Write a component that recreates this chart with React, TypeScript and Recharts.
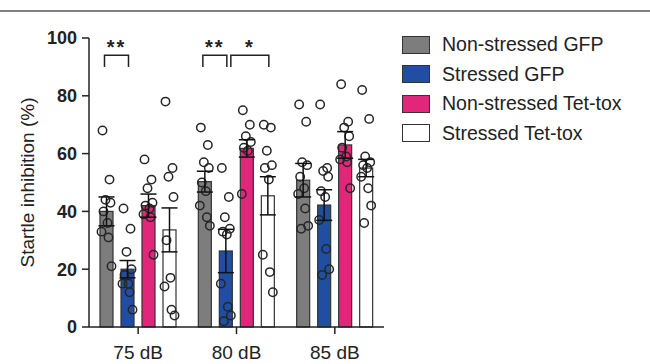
import React from 'react';
import {
  ComposedChart,
  Bar,
  ErrorBar,
  XAxis,
  YAxis,
  Legend
} from 'recharts';

// x categories and y ticks
const categories = ['75 dB', '80 dB', '85 dB'];
const yTicks = [0, 20, 40, 60, 80, 100];

// group means and SEM, one value per category
const nsGfpMean = [40, 50.3, 50.8];
const nsGfpSem = [5, 3.6, 5.8];
const sGfpMean = [20, 26.3, 42.2];
const sGfpSem = [3, 7.5, 5.3];
const nsTetMean = [42, 61.8, 63];
const nsTetSem = [4, 3, 4.6];
const sTetMean = [33.6, 45.4, 55];
const sTetSem = [7.6, 6.6, 3];

// individual animals
const nsGfpPoints = [
  [68, 51, 44, 43, 40, 36, 33, 31, 21],
  [69, 63, 57, 55, 50, 47, 42, 38, 35],
  [77, 71, 57, 56, 52, 48, 46, 41, 35, 34],
];
const sGfpPoints = [
  [41, 34, 26, 20, 18, 15, 15, 12, 6],
  [55, 45, 38, 34, 33, 32, 15, 7, 4, 2],
  [77, 55, 54, 52, 47, 45, 37, 27, 20, 18],
];
const nsTetPoints = [
  [58, 51, 48, 43, 42, 41, 39, 38, 25],
  [75, 70, 66, 64, 62, 61, 46],
  [84, 71, 69, 66, 62, 59, 58, 57, 48],
];
const sTetPoints = [
  [78, 55, 52, 45, 30, 17, 14, 6, 4],
  [70, 69, 61, 56, 55, 51, 25, 19, 12],
  [82, 72, 59, 57, 56, 55, 52, 48, 42, 36],
];

// significance marks: category index, from series, to series, label
const sigCats = [0, 1, 1];
const sigFrom = [0, 0, 1];
const sigTo = [1, 1, 3];
const sigLabels = ['**', '**', '*'];
const SIG_LEVEL = 94;
const SIG_LEG = 90;

const series = [
  { key: 'nsGfp', name: 'Non-stressed GFP', color: '#7d7d7d', mean: nsGfpMean, sem: nsGfpSem, pts: nsGfpPoints },
  { key: 'sGfp', name: 'Stressed GFP', color: '#1f4ea3', mean: sGfpMean, sem: sGfpSem, pts: sGfpPoints },
  { key: 'nsTet', name: 'Non-stressed Tet-tox', color: '#e2267a', mean: nsTetMean, sem: nsTetSem, pts: nsTetPoints },
  { key: 'sTet', name: 'Stressed Tet-tox', color: '#ffffff', mean: sTetMean, sem: sTetSem, pts: sTetPoints },
];

const data = categories.map((cat, i) => {
  const row: any = { cat, idx: i };
  series.forEach(s => {
    row[s.key] = s.mean[i];
    row[s.key + 'Err'] = s.sem[i];
    row[s.key + 'Pts'] = s.pts[i];
  });
  return row;
});

const BAR_SIZE = 13;
const BAR_GAP = 8;
const JITTER = [-4, 3, -1, 4, -3, 1, -5, 2, 5, -2];
const FONT = '"Liberation Sans", Arial, Helvetica, sans-serif';

const makeShape = (seriesIdx: number) => (props: any) => {
  const { x, y, width, height, payload, fill } = props;
  const s = series[seriesIdx];
  const value = payload[s.key];
  const base = y + height;
  const ppu = height / value;
  const cx = x + width / 2;
  const pts: number[] = payload[s.key + 'Pts'] || [];

  const marks: React.ReactNode[] = [];
  sigCats.forEach((c, k) => {
    if (c !== payload.idx || sigFrom[k] !== seriesIdx) return;
    // shift start when another bracket ends on this bar
    const shared = sigCats.some((c2, k2) => c2 === c && sigTo[k2] === seriesIdx);
    const x1 = cx + (shared ? 5 : -2);
    const x2 = cx + (sigTo[k] - sigFrom[k]) * (width + BAR_GAP) + 1;
    const yl = base - SIG_LEVEL * ppu;
    const yg = base - SIG_LEG * ppu;
    marks.push(
      <g key={'sig' + k}>
        <path
          d={`M${x1},${yg} L${x1},${yl} L${x2},${yl} L${x2},${yg}`}
          fill="none"
          stroke="#222"
          strokeWidth={1.5}
        />
        <text
          x={(x1 + x2) / 2}
          y={yl - 1}
          textAnchor="middle"
          fontFamily={FONT}
          fontWeight="bold"
          fontSize={20}
          letterSpacing={2}
          fill="#222"
        >
          {sigLabels[k]}
        </text>
      </g>
    );
  });

  return (
    <g>
      <rect x={x} y={y} width={width} height={height} fill={fill} stroke="#333" strokeWidth={1.2} />
      {pts.map((v, j) => (
        <circle
          key={j}
          cx={cx + JITTER[j % JITTER.length]}
          cy={base - v * ppu}
          r={4.2}
          fill="none"
          stroke="#262626"
          strokeWidth={1.5}
        />
      ))}
      {marks}
    </g>
  );
};

const LegendBox = () => (
  <div style={{ fontFamily: FONT }}>
    {series.map(s => (
      <div key={s.key} style={{ display: 'flex', alignItems: 'center', height: 29.5 }}>
        <div
          style={{
            width: 26,
            height: 16,
            background: s.color,
            border: '1.5px solid #333',
            marginRight: 12
          }}
        />
        <span style={{ fontSize: 19.5, color: '#222', whiteSpace: 'nowrap' }}>{s.name}</span>
      </div>
    ))}
  </div>
);

const YLabel = (props: any) => {
  const { viewBox } = props;
  const cy = viewBox.y + viewBox.height / 2;
  return (
    <text
      x={27}
      y={cy}
      transform={`rotate(-90, 27, ${cy})`}
      textAnchor="middle"
      dominantBaseline="central"
      fontFamily={FONT}
      fontSize={19}
      fill="#222"
    >
      Startle inhibition (%)
    </text>
  );
};

export default function App() {
  return (
    <div style={{ position: 'absolute', left: 0, top: 0, width: 650, height: 364, background: '#fff' }}>
      <div style={{ position: 'absolute', left: 0, top: 10, width: 650, height: 2, background: '#808080' }} />
      <ComposedChart
        width={650}
        height={364}
        data={data}
        margin={{ top: 38, right: 266, bottom: 0, left: 9 }}
        barSize={BAR_SIZE}
        barGap={BAR_GAP}
      >
        <XAxis
          dataKey="cat"
          height={37}
          tickSize={7}
          tickMargin={12}
          axisLine={{ stroke: '#222', strokeWidth: 1.5 }}
          tickLine={{ stroke: '#222', strokeWidth: 1.5 }}
          tick={{ fontSize: 19, fill: '#222', fontFamily: FONT }}
        />
        <YAxis
          width={80}
          domain={[0, 100]}
          ticks={yTicks}
          tickSize={7}
          tickMargin={5}
          axisLine={{ stroke: '#222', strokeWidth: 1.5 }}
          tickLine={{ stroke: '#222', strokeWidth: 1.5 }}
          tick={{ fontSize: 18, fontWeight: 'bold', fill: '#222', fontFamily: FONT }}
          label={<YLabel />}
        />
        <Legend
          layout="vertical"
          align="center"
          verticalAlign="middle"
          content={<LegendBox />}
          wrapperStyle={{ left: 402, top: 30, width: 240 }}
        />
        {series.map((s, i) => (
          <Bar
            key={s.key}
            dataKey={s.key}
            name={s.name}
            fill={s.color}
            shape={makeShape(i)}
            isAnimationActive={false}
          >
            <ErrorBar dataKey={s.key + 'Err'} width={8} stroke="#111" strokeWidth={1.5} />
          </Bar>
        ))}
      </ComposedChart>
    </div>
  );
}
